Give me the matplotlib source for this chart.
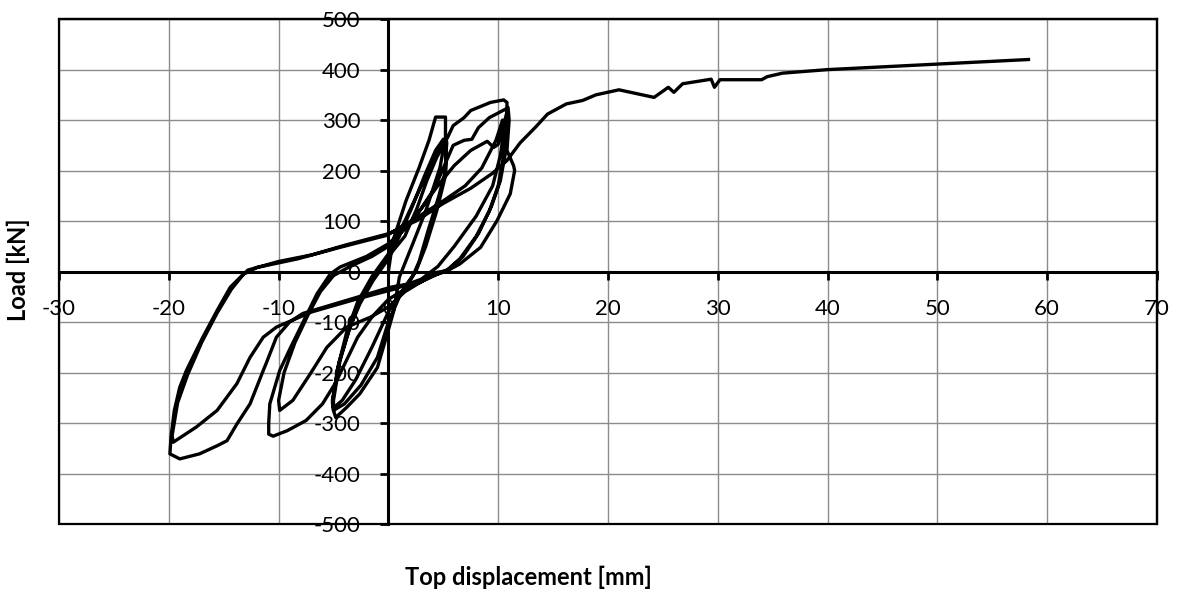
import matplotlib
matplotlib.use("Agg")
import matplotlib.pyplot as plt
from matplotlib.patches import Rectangle

plt.rcParams['font.family'] = ['Lato', 'DejaVu Sans']
plt.rcParams['axes.unicode_minus'] = False

# +/-5 mm cycles (displacement mm, load kN)
cycles_5mm = [
    (0, 0), (0.4, 60), (1.6, 140), (2.8, 206), (3.7, 260), (4.3, 306), (5.2, 306),
    (5.2, 266), (4.7, 206), (3.4, 120), (2.2, 54), (1.0, -11), (0.5, -77), (-0.1, -123),
    (-1.0, -190), (-2.6, -242), (-3.8, -269), (-4.8, -289), (-5.0, -275), (-5.0, -255),
    (-4.4, -176), (-3.5, -110), (-2.6, -64), (-1.4, -18), (-0.1, 22), (1.0, 70),
    (2.2, 130), (3.3, 190), (4.3, 240), (5.0, 262), (5.3, 255), (5.2, 200), (4.6, 150),
    (3.6, 80), (2.8, 20), (2.2, -10), (1.0, -50), (0.0, -100), (-1.0, -170),
    (-2.5, -225), (-4.0, -262), (-5.0, -275), (-5.1, -260), (-4.6, -190), (-3.8, -120),
    (-2.8, -60), (-1.5, -10), (0.0, 35), (1.5, 100), (3.0, 170), (4.3, 230), (5.3, 258),
    (5.2, 190), (4.4, 120), (3.4, 50), (2.5, 0), (1.5, -30), (0.0, -80), (-1.5, -150),
    (-3.0, -215), (-4.2, -255), (-5.0, -270), (-5.1, -255), (-4.5, -180), (-3.5, -110),
    (-2.4, -50), (-1.0, 0), (0.0, 30),
]

# +/-10 mm cycles
cycles_10mm = [
    (1.5, 70), (2.6, 125), (3.5, 180), (4.4, 226), (5.4, 266), (5.9, 289), (6.9, 305),
    (7.5, 319), (9.3, 335), (10.5, 340), (10.8, 335), (10.8, 300), (10.5, 230),
    (10.0, 170), (9.2, 120), (8.0, 70), (6.5, 25), (5.2, 0), (4.0, -8), (3.0, -20),
    (1.5, -35), (0.0, -55), (-1.5, -90), (-2.8, -130), (-3.8, -175), (-4.8, -220),
    (-6.0, -262), (-7.5, -295), (-9.2, -315), (-10.5, -326), (-10.9, -322),
    (-10.9, -300), (-10.8, -262), (-9.9, -196), (-8.9, -150), (-7.7, -97), (-6.5, -44),
    (-5.3, -5), (-4.4, 9), (-2.0, 30), (0.0, 55), (2.0, 95), (3.0, 125), (4.2, 165),
    (5.2, 215), (5.9, 250), (6.9, 260), (7.6, 262), (8.2, 285), (9.2, 305), (10.7, 322),
    (10.9, 310), (10.7, 240), (10.2, 180), (9.4, 130), (8.2, 75), (6.8, 30), (5.5, 5),
    (4.5, -5), (3.0, -20), (1.5, -40), (0.0, -70), (-1.6, -90), (-3.8, -110),
    (-5.6, -150), (-7.1, -202), (-8.7, -255), (-9.9, -275), (-10.0, -255), (-9.5, -200),
    (-8.5, -140), (-7.3, -85), (-6.2, -40), (-5.0, -8), (-3.5, 10), (-1.5, 30), (0.0, 50),
    (1.5, 85), (3.0, 125), (4.5, 170), (6.0, 210), (7.5, 240), (9.0, 258), (9.6, 246),
    (10.0, 252), (10.5, 290), (10.9, 325), (11.0, 300), (10.8, 240), (11.4, 210),
    (11.5, 200), (11.1, 154), (9.9, 101), (8.4, 48), (6.5, 15), (5.4, 2), (4.3, -2),
]

# -20 mm cycles
cycles_20mm = [
    (3.0, -20), (0.2, -31), (-3.8, -57), (-7.8, -83), (-9.0, -100), (-10.2, -130),
    (-11.1, -180), (-11.4, -196), (-12.6, -262), (-13.8, -302), (-14.7, -335),
    (-15.6, -345), (-17.2, -361), (-19.0, -371), (-19.9, -361), (-19.8, -328),
    (-19.5, -275), (-19.0, -229), (-18.4, -196), (-16.9, -130), (-15.6, -77),
    (-14.4, -31), (-13.2, -5), (-12.5, 2), (-12.0, 8), (-8.3, 25), (-4.4, 48),
    (-0.1, 72), (1.4, 92), (2.6, 107), (5.0, 140), (7.0, 170), (8.5, 205), (9.8, 260),
    (10.4, 300), (10.6, 290), (10.2, 230), (9.5, 170), (8.0, 110), (6.0, 50), (4.5, 10),
    (3.0, -15), (0.5, -35), (-3.0, -55), (-7.0, -80), (-10.2, -110), (-11.4, -130),
    (-12.6, -170), (-13.8, -222), (-15.6, -275), (-17.5, -308), (-19.6, -338),
    (-19.7, -325), (-19.2, -260), (-18.3, -205), (-17.0, -140), (-15.6, -82),
    (-14.3, -35), (-13.3, -8), (-12.8, 3), (-10.0, 20), (-7.0, 33), (-4.0, 52),
    (0.0, 75), (2.5, 100), (5.0, 135), (7.5, 165), (9.5, 195), (10.8, 220),
]

# final monotonic push
final_push = [
    (12.0, 255), (13.4, 286), (14.5, 312), (16.2, 332), (17.7, 339), (18.9, 350),
    (21.0, 360), (24.2, 345), (25.5, 365), (26.0, 355), (26.8, 372), (29.4, 381),
    (29.7, 365), (30.2, 380), (34.0, 380), (34.5, 386), (35.9, 393), (40.0, 400),
    (50.0, 411), (58.3, 420),
]

x_ticks = list(range(-30, 71, 10))
y_ticks = list(range(-500, 501, 100))

points = cycles_5mm + cycles_10mm + cycles_20mm + final_push
disp = [p[0] for p in points]
load = [p[1] for p in points]

fig = plt.figure(figsize=(11.78, 5.94), dpi=100)
ax = fig.add_axes([0.0501, 0.1178, 0.932, 0.850])

ax.plot(disp, load, color='black', lw=2.4, zorder=3, solid_joinstyle='round')

ax.set_xlim(-30, 70)
ax.set_ylim(-500, 500)
ax.set_xticks(x_ticks)
ax.set_yticks(y_ticks)
ax.grid(True, color='#8c8c8c', lw=1.0)
ax.set_axisbelow(True)

ax.spines['left'].set_position(('data', 0))
ax.spines['bottom'].set_position(('data', 0))
for s in ['left', 'bottom']:
    ax.spines[s].set_linewidth(2.2)
    ax.spines[s].set_zorder(2)
for s in ['top', 'right']:
    ax.spines[s].set_linewidth(1.6)
ax.add_patch(Rectangle((0, 0), 1, 1, transform=ax.transAxes, fill=False,
                       lw=1.6, edgecolor='black', clip_on=False, zorder=2))

ax.tick_params(axis='both', direction='out', length=6, width=2, labelsize=16, pad=14,
               colors='black')

fig.text(528 / 1178, 1 - 577 / 594, 'Top displacement [mm]', fontsize=17,
         fontweight='bold', ha='center', va='center')
fig.text(18 / 1178, 1 - 270 / 594, 'Load [kN]', fontsize=17, fontweight='bold',
         rotation=90, ha='center', va='center')

fig.savefig('out.png', dpi=100)
